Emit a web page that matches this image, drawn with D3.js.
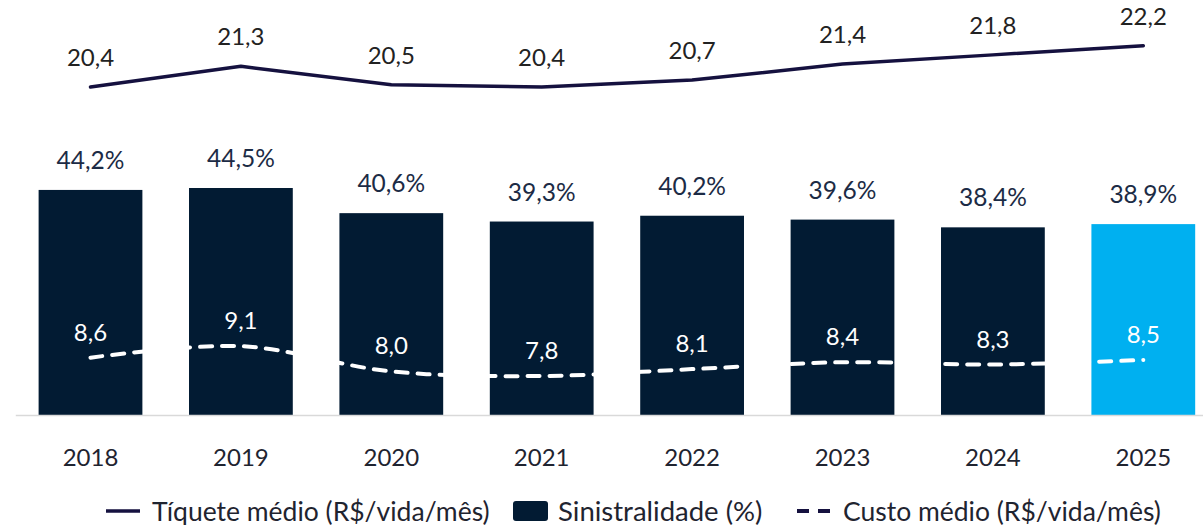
<!DOCTYPE html>
<html>
<head>
<meta charset="utf-8">
<script src="https://cdn.jsdelivr.net/npm/d3@7"></script>
<style>
  html, body { margin: 0; padding: 0; background: #ffffff; }
  svg { display: block; }
  text { font-family: Lato, "Noto Sans", sans-serif; }
</style>
</head>
<body>
<svg id="chart" width="1203" height="525"></svg>
<script>
const years = ["2018", "2019", "2020", "2021", "2022", "2023", "2024", "2025"];
const sinistralidade = [44.2, 44.5, 40.6, 39.3, 40.2, 39.6, 38.4, 38.9];
const ticketMedio = [20.4, 21.3, 20.5, 20.4, 20.7, 21.4, 21.8, 22.2];
const custoMedio = [8.6, 9.1, 8.0, 7.8, 8.1, 8.4, 8.3, 8.5];
const legendLabels = ["Tíquete médio (R$/vida/mês)", "Sinistralidade (%)", "Custo médio (R$/vida/mês)"];

const fmt = v => d3.format(".1f")(v).replace(".", ",");

const svg = d3.select("#chart");
const baseY = 415;

const x = d3.scaleBand().domain(years).range([15.3, 1218.5])
  .paddingInner(0.31).paddingOuter(0.155).align(0.5);
const yBar = d3.scaleLinear().domain([9.3, 44.5]).range([baseY, 188]);
const yLine = d3.scaleLinear().domain([7.8, 22.2]).range([376, 45.7]);

const cx = i => x(years[i]) + x.bandwidth() / 2;

// bars
svg.append("g").selectAll("rect").data(sinistralidade).join("rect")
  .attr("x", (d, i) => x(years[i]))
  .attr("y", d => yBar(d))
  .attr("width", x.bandwidth())
  .attr("height", d => baseY - yBar(d))
  .attr("fill", (d, i) => i === years.length - 1 ? "#00b0f0" : "#021b33");

// bar labels
svg.append("g").selectAll("text").data(sinistralidade).join("text")
  .attr("x", (d, i) => cx(i))
  .attr("y", d => yBar(d) - 21)
  .attr("text-anchor", "middle")
  .attr("font-size", 24.5)
  .attr("fill", "#1c2b45")
  .text(d => fmt(d) + "%");

// x axis
const axis = svg.append("g").attr("transform", `translate(0,${baseY})`)
  .call(d3.axisBottom(x).tickSize(0).tickPadding(34));
axis.select(".domain").attr("stroke", "#d9d9d9").attr("stroke-width", 1.5);
axis.selectAll("text").attr("font-size", 24).attr("fill", "#1f2430")
  .attr("font-family", "Lato, 'Noto Sans', sans-serif");

// ticket line (straight segments)
const lineStraight = d3.line().x((d, i) => cx(i)).y(d => yLine(d));
svg.append("path").datum(ticketMedio)
  .attr("d", lineStraight)
  .attr("fill", "none")
  .attr("stroke", "#15113f")
  .attr("stroke-width", 3.5)
  .attr("stroke-linejoin", "round")
  .attr("stroke-linecap", "round");

svg.append("g").selectAll("text").data(ticketMedio).join("text")
  .attr("x", (d, i) => cx(i))
  .attr("y", d => yLine(d) - 21)
  .attr("text-anchor", "middle")
  .attr("font-size", 24)
  .attr("fill", "#222222")
  .text(d => fmt(d));

// custo dashed line (smoothed)
const lineSmooth = d3.line().x((d, i) => cx(i)).y(d => yLine(d)).curve(d3.curveCatmullRom.alpha(0.5));
svg.append("path").datum(custoMedio)
  .attr("d", lineSmooth)
  .attr("fill", "none")
  .attr("stroke", "#ffffff")
  .attr("stroke-width", 4)
  .attr("stroke-dasharray", "12,10")
  .attr("stroke-linecap", "round");

svg.append("g").selectAll("text").data(custoMedio).join("text")
  .attr("x", (d, i) => cx(i))
  .attr("y", d => yLine(d) - 17)
  .attr("text-anchor", "middle")
  .attr("font-size", 24)
  .attr("fill", "#ffffff")
  .text(d => fmt(d));

// legend
const lg = svg.append("g");
const ly = 511;
const lfs = 26.5;
lg.append("line").attr("x1", 106).attr("x2", 140).attr("y1", ly).attr("y2", ly)
  .attr("stroke", "#15113f").attr("stroke-width", 3.5);
lg.append("text").attr("x", 152).attr("y", ly + 9.5).attr("font-size", lfs).attr("fill", "#1f2430")
  .text(legendLabels[0]);
lg.append("rect").attr("x", 513).attr("y", ly - 10).attr("width", 35).attr("height", 20).attr("rx", 3)
  .attr("fill", "#021b33");
lg.append("text").attr("x", 558).attr("y", ly + 9.5).attr("font-size", lfs + 1).attr("fill", "#1f2430")
  .text(legendLabels[1]);
lg.append("line").attr("x1", 797).attr("x2", 831).attr("y1", ly).attr("y2", ly)
  .attr("stroke", "#15113f").attr("stroke-width", 4).attr("stroke-dasharray", "12,9");
lg.append("text").attr("x", 843).attr("y", ly + 9.5).attr("font-size", lfs).attr("fill", "#1f2430")
  .text(legendLabels[2]);
</script>
</body>
</html>
